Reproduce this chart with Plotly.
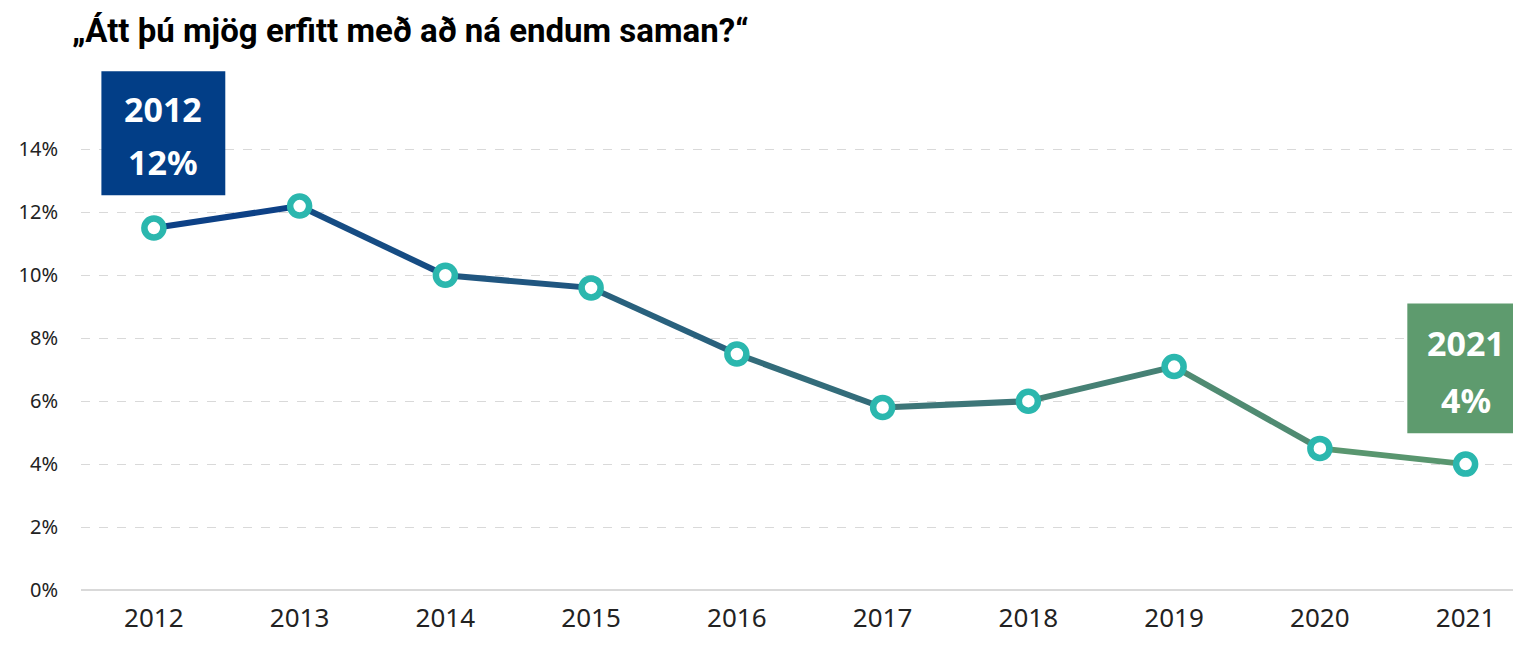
import plotly.graph_objects as go

# Gögn
ar = [2012, 2013, 2014, 2015, 2016, 2017, 2018, 2019, 2020, 2021]
hlutfall = [11.5, 12.2, 10.0, 9.6, 7.5, 5.8, 6.0, 7.1, 4.5, 4.0]
y_ticks = [0, 2, 4, 6, 8, 10, 12, 14]
titill = "„Átt þú mjög erfitt með að ná endum saman?“"
merki_fyrst = ["2012", "12%"]
merki_sidast = ["2021", "4%"]

LITUR_BYRJUN = (8, 60, 135)
LITUR_ENDIR = (94, 155, 110)
MERKI_LITUR = "#2bb7ae"


def blanda(t):
    r, g, b = [round(a + (c - a) * t) for a, c in zip(LITUR_BYRJUN, LITUR_ENDIR)]
    return f"rgb({r},{g},{b})"


fig = go.Figure()

# Línan teiknuð í bútum svo liturinn færist frá bláu yfir í grænt
n = len(ar) - 1
for i in range(n):
    fig.add_trace(go.Scatter(
        x=ar[i:i + 2], y=hlutfall[i:i + 2], mode="lines",
        line=dict(color=blanda((i + 0.5) / n), width=6),
        hoverinfo="skip", showlegend=False,
    ))

fig.add_trace(go.Scatter(
    x=ar, y=hlutfall, mode="markers",
    marker=dict(size=19, color="white", line=dict(color=MERKI_LITUR, width=6.5)),
    showlegend=False,
))

# Kassar með texta
fig.add_shape(type="rect", xref="x", yref="y", x0=2011.64, x1=2012.49, y0=12.54, y1=16.48,
              fillcolor="#023e87", line=dict(width=0), layer="above")
fig.add_shape(type="rect", xref="x", yref="y", x0=2020.6, x1=2021.45, y0=4.98, y1=9.1,
              fillcolor="#5e9b6e", line=dict(width=0), layer="above")

boxfont = dict(family="Noto Sans", size=34, color="white")
fig.add_annotation(x=2012.06, y=15.3, xref="x", yref="y", text=f"<b>{merki_fyrst[0]}</b>",
                   showarrow=False, font=boxfont)
fig.add_annotation(x=2012.06, y=13.59, xref="x", yref="y", text=f"<b>{merki_fyrst[1]}</b>",
                   showarrow=False, font=boxfont)
fig.add_annotation(x=2021.0, y=7.85, xref="x", yref="y", text=f"<b>{merki_sidast[0]}</b>",
                   showarrow=False, font=boxfont)
fig.add_annotation(x=2021.0, y=6.05, xref="x", yref="y", text=f"<b>{merki_sidast[1]}</b>",
                   showarrow=False, font=boxfont)

# síðan hefur 8px spássíu, því er myndin minnkuð um það
fig.update_layout(
    width=1513, height=630,
    margin=dict(l=73, r=0, t=47, b=48),
    plot_bgcolor="white", paper_bgcolor="white",
    title=dict(text=f"<b>{titill}</b>", x=64 / 1513, xanchor="left", y=1 - 22 / 630, yanchor="middle",
               font=dict(family="Roboto", size=33, color="black")),
    xaxis=dict(range=[2011.5, 2021.38], tickvals=ar, ticktext=[str(a) for a in ar],
               showgrid=False, zeroline=False, showline=False, ticks="",
               tickfont=dict(family="Noto Sans", size=26, color="#222"), ticklabelstandoff=10),
    yaxis=dict(range=[0, 17], tickvals=y_ticks, ticktext=[f"{v}%" for v in y_ticks],
               showgrid=True, gridcolor="#d9d9d9", griddash="dash", gridwidth=1,
               zeroline=True, zerolinecolor="#d9d9d9", zerolinewidth=1.5,
               ticks="", tickfont=dict(family="Noto Sans", size=20, color="#222"),
               ticklabelstandoff=22),
    showlegend=False,
)

fig.write_html("out.html")
